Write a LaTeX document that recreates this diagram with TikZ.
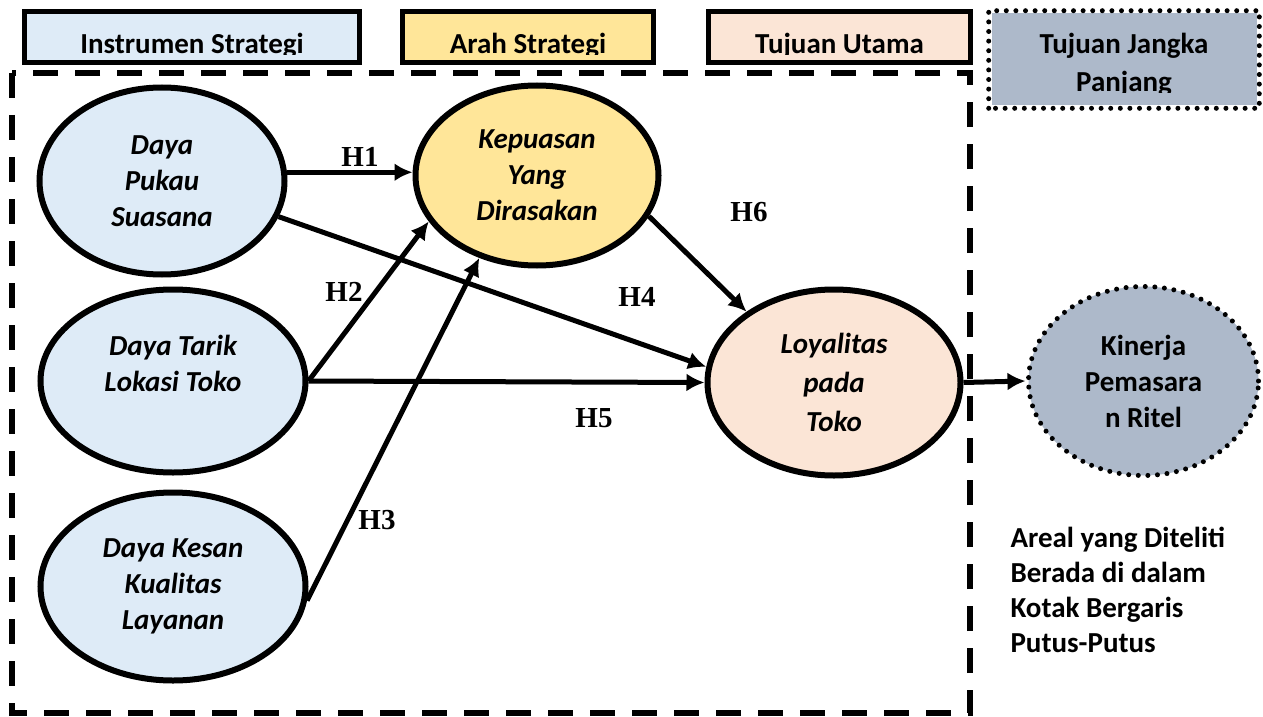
\documentclass[tikz,border=0pt]{standalone}
\usepackage{fontspec}
\setmainfont{Carlito}
\newfontfamily\hfont{Liberation Serif}
\usetikzlibrary{positioning, shapes.geometric, arrows.meta}
\definecolor{instrblue}{HTML}{DEEBF7}
\definecolor{arahyellow}{HTML}{FFE699}
\definecolor{tujuanpeach}{HTML}{FBE5D6}
\definecolor{jangkagrey}{HTML}{ADB9CA}

\begin{document}
\begin{tikzpicture}[x=0.5pt,y=-0.5pt,>={Latex[length=9pt,width=9pt]},line width=2.5pt]
  \tikzstyle{var}=[ellipse,draw,line width=3pt,inner sep=0pt,align=center,font=\fontsize{14.5}{18}\selectfont\bfseries\itshape]
  \tikzstyle{dotline}=[line width=2.5pt,line cap=round,dash pattern=on 0pt off 4.8pt]
  \tikzstyle{topbox}=[rectangle,draw,line width=2.8pt,minimum height=25.5pt,inner sep=0pt]
  \tikzstyle{boxtext}=[anchor=base,align=center,inner sep=0pt,font=\fontsize{14.5}{19.5}\selectfont\bfseries]
  \tikzstyle{hyp}=[inner sep=0pt,font=\fontsize{14.5}{17}\selectfont\hfont\bfseries]
  \tikzstyle{arr}=[->,line width=2.5pt]

  \useasboundingbox (0,0) rectangle (1263,717);

  % header boxes
  \node[topbox,fill=instrblue,minimum width=167.5pt] (instr) at (192,37) {};
  \node[topbox,fill=arahyellow,minimum width=125.5pt] (arah) at (528,37) {};
  \node[topbox,fill=tujuanpeach,minimum width=131pt] (utama) at (839.5,37) {};
  \node[topbox,draw=none,fill=jangkagrey,minimum width=132.5pt,minimum height=46pt] (jangka) at (1124,59.5) {};
  \draw[dotline] (jangka.south west) rectangle (jangka.north east);

  \begin{scope}
    \clip (22,9) rectangle (1258,55);
    \node[boxtext] (instrtext) at (192,54) {Instrumen Strategi};
    \node[boxtext] (arahtext) at (528,54) {Arah Strategi};
    \node[boxtext] (utamatext) at (839.5,54) {Tujuan Utama};
  \end{scope}
  \begin{scope}
    \clip (990,12) rectangle (1258,93);
    \node[boxtext] (jangkatext) at (1124,92) {Tujuan Jangka\\Panjang};
  \end{scope}

  % area under study
  \draw[line width=3pt,dash pattern=on 12.5pt off 8.5pt] (12,73) rectangle (970,713);

  \node[var,fill=instrblue,minimum width=122.5pt,minimum height=93.5pt] (pukau) at (162,181) {Daya\\Pukau\\Suasana};
  \node[var,fill=instrblue,minimum width=132.5pt,minimum height=91.5pt] (tarik) at (173,381) {Daya Tarik\\Lokasi Toko\\\mbox{}};
  \node[var,fill=instrblue,minimum width=132.5pt,minimum height=94pt] (kesan) at (173,586.5) {Daya Kesan\\Kualitas\\Layanan};
  \node[var,fill=arahyellow,minimum width=121.5pt,minimum height=90pt] (puas) at (537,175.5) {Kepuasan\\Yang\\Dirasakan};
  \node[var,fill=tujuanpeach,font=\fontsize{14.5}{19.5}\selectfont\bfseries\itshape,minimum width=126.5pt,minimum height=93pt] (loyal) at (834,382.5) {Loyalitas\\pada\\Toko};
  \node[var,draw=none,fill=jangkagrey,font=\fontsize{14.5}{18}\selectfont\bfseries,minimum width=115pt,minimum height=94.5pt] (kinerja) at (1143.5,381) {Kinerja\\Pemasara\\n Ritel};
  \draw[dotline] (kinerja.center) ellipse (57.5pt and 47.25pt);

  \node[anchor=west,align=left,inner sep=0pt,font=\fontsize{14.5}{17.5}\selectfont\bfseries] (note) at (1008,590) {Areal yang Diteliti\\Berada di dalam\\Kotak Bergaris\\Putus-Putus};

  \draw[arr] (pukau.4) -- (pukau.4 -| puas.west);
  \draw[arr] (tarik.east) -- (puas.203);
  \draw[arr] (kesan.354) -- (puas.235);
  \draw[arr] (pukau.343) -- (loyal.173);
  \draw[arr] (tarik.east) -- (loyal.west);
  \draw[arr] (puas.340) -- (loyal.141);
  \draw[arr] (loyal.east) -- (kinerja.west);

  \node[hyp] (h1) at (360,157) {H1};
  \node[hyp] (h2) at (344,292) {H2};
  \node[hyp] (h3) at (377,520) {H3};
  \node[hyp] (h4) at (637,297) {H4};
  \node[hyp] (h5) at (594,418) {H5};
  \node[hyp] (h6) at (749,212) {H6};
\end{tikzpicture}
\end{document}
